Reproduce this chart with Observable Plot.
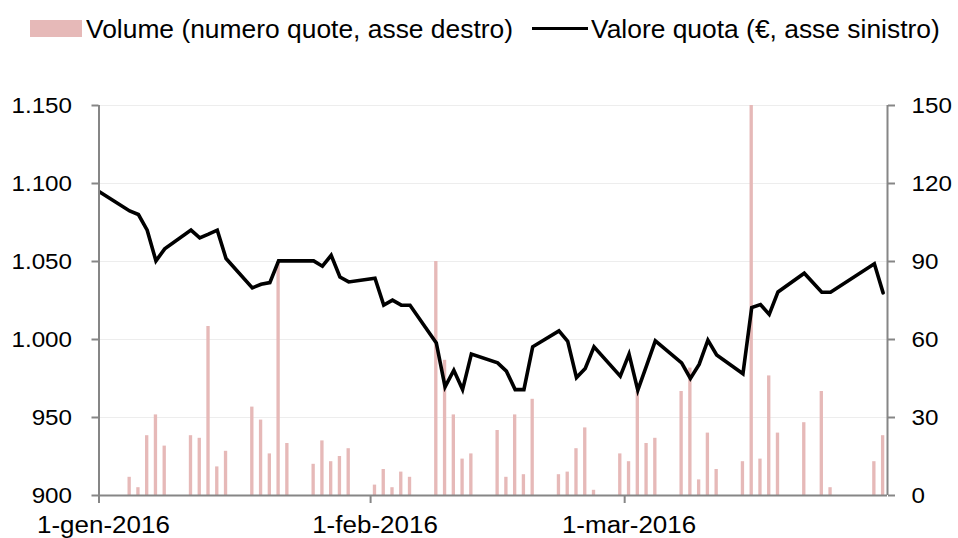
<!DOCTYPE html>
<html>
<head>
<meta charset="utf-8">
<script src="https://cdn.jsdelivr.net/npm/d3@7"></script>
<script src="https://cdn.jsdelivr.net/npm/@observablehq/plot@0.6"></script>
<style>
  html, body { margin: 0; padding: 0; background: #fff; }
  body { width: 958px; height: 538px; overflow: hidden; font-family: "Liberation Sans", Arial, sans-serif; }
  #legend { position: relative; height: 55px; font-size: 25px; color: #000; }
  #legend .sw { position: absolute; }
  #legend .tx { position: absolute; line-height: 25px; white-space: nowrap; transform: scaleX(1.056); transform-origin: 0 50%; }
  #chart svg { display: block; }
</style>
</head>
<body>
<div id="legend">
  <span class="sw" style="left:30px;top:20px;width:52px;height:17px;background:#e6b9b8"></span>
  <span class="tx" style="left:86px;top:17px">Volume (numero quote, asse destro)</span>
  <span class="sw" style="left:532px;top:27px;width:56px;height:3px;background:#000"></span>
  <span class="tx" style="left:591px;top:17px">Valore quota (€, asse sinistro)</span>
</div>
<div id="chart"></div>
<script>
// ---- data ----
const tradeDates = [
  "2016-01-04","2016-01-05","2016-01-06","2016-01-07","2016-01-08",
  "2016-01-11","2016-01-12","2016-01-13","2016-01-14","2016-01-15",
  "2016-01-18","2016-01-19","2016-01-20","2016-01-21","2016-01-22",
  "2016-01-25","2016-01-26","2016-01-27","2016-01-28","2016-01-29",
  "2016-02-01","2016-02-02","2016-02-03","2016-02-04","2016-02-05",
  "2016-02-08","2016-02-09","2016-02-10","2016-02-11","2016-02-12",
  "2016-02-15","2016-02-16","2016-02-17","2016-02-18","2016-02-19",
  "2016-02-22","2016-02-23","2016-02-24","2016-02-25","2016-02-26",
  "2016-02-29","2016-03-01","2016-03-02","2016-03-03","2016-03-04",
  "2016-03-07","2016-03-08","2016-03-09","2016-03-10","2016-03-11",
  "2016-03-14","2016-03-15","2016-03-16","2016-03-17","2016-03-18",
  "2016-03-21","2016-03-23","2016-03-24","2016-03-29","2016-03-30"
];
const valoreQuota = [
  1082.4, 1080.1, 1070.1, 1050.4, 1058.1,
  1070.1, 1065.1, 1067.5, 1070.1, 1051.9,
  1033.1, 1035.4, 1036.5, 1050.4, 1050.4,
  1050.4, 1047.0, 1054.0, 1040.1, 1036.9,
  1039.3, 1022.0, 1025.2, 1022.0, 1022.0,
  997.8, 969.6, 980.3, 967.9, 990.6,
  985.0, 979.7, 967.9, 967.9, 995.3,
  1005.5, 998.9, 975.6, 981.4, 995.3,
  976.5, 990.6, 967.5, 983.3, 999.1,
  985.0, 975.0, 984.0, 999.6, 990.1,
  978.0, 1020.5, 1022.4, 1016.1, 1030.5,
  1042.5, 1030.3, 1030.3, 1048.5, 1029.9
];
const volumeQuote = [
  7, 3, 23, 31, 19,
  23, 22, 65, 11, 17,
  34, 29, 16, 90, 20,
  12, 21, 13, 15, 18,
  4, 10, 3, 9, 7,
  90, 52, 31, 14, 16,
  25, 7, 31, 8, 37,
  8, 9, 18, 26, 2,
  16, 13, 40, 20, 22,
  40, 49, 6, 24, 10,
  13, 150, 14, 46, 24,
  28, 40, 3, 13, 23
];
const priorDate = "2015-12-31";
const priorValue = 1096.7;
const leftTicks = [900, 950, 1000, 1050, 1100, 1150];
const rightTicks = [0, 30, 60, 90, 120, 150];
const monthTicks = ["2016-01-01", "2016-02-01", "2016-03-01"];
const monthLabels = ["1-gen-2016", "1-feb-2016", "1-mar-2016"];
const xDomain = ["2016-01-01", "2016-03-31"];

// ---- build ----
const DAY = 864e5;
const yMin = leftTicks[0], yMax = leftTicks[leftTicks.length - 1];
const volMax = rightTicks[rightTicks.length - 1];
const toLeft = v => yMin + v * (yMax - yMin) / volMax;
const fromLeft = y => Math.round((y - yMin) * volMax / (yMax - yMin));
const itFmt = d3.formatLocale({decimal: ",", thousands: ".", grouping: [3], currency: ["€", ""]}).format(",");

const rows = tradeDates.map((s, i) => ({date: new Date(s), value: valoreQuota[i], volume: volumeQuote[i]}));
const lineRows = [{date: new Date(priorDate), value: priorValue}, ...rows];
const mid = d => new Date(+d.date + DAY / 2);
const xd = xDomain.map(s => new Date(s));
const tickDates = monthTicks.map(s => new Date(s));
const AXIS = "#868686";

const plot = Plot.plot({
  width: 958,
  height: 483,
  marginLeft: 98.5,
  marginRight: 71,
  marginTop: 50,
  marginBottom: 43,
  style: {fontFamily: "'Liberation Sans', Arial, sans-serif", fontSize: "22px", color: "#000", background: "#fff"},
  x: {type: "utc", domain: xd, label: null},
  y: {domain: [yMin, yMax], label: null},
  marks: [
    Plot.ruleY(leftTicks.slice(1), {stroke: "#ededed", strokeWidth: 1}),
    Plot.rect(rows, {
      x1: d => new Date(+d.date + DAY * 0.31),
      x2: d => new Date(+d.date + DAY * 0.69),
      y1: yMin,
      y2: d => toLeft(d.volume),
      fill: "#e6b9b8",
      inset: 0
    }),
    Plot.line(lineRows, {x: mid, y: "value", stroke: "#000", strokeWidth: 3.6, strokeLinejoin: "miter", strokeMiterlimit: 4, clip: true}),
    Plot.ruleX([xd[0]], {y1: yMin, y2: yMax, stroke: AXIS, strokeWidth: 2}),
    Plot.ruleX([xd[1]], {y1: yMin, y2: yMax, stroke: AXIS, strokeWidth: 2}),
    Plot.ruleY([yMin], {stroke: AXIS, strokeWidth: 2}),
    Plot.axisY({anchor: "left", ticks: leftTicks, tickFormat: itFmt, tickSize: 7, tickPadding: 20, stroke: AXIS, strokeWidth: 2, label: null}),
    Plot.axisY({anchor: "right", ticks: rightTicks.map(toLeft), tickFormat: d => String(fromLeft(d)), tickSize: 7, tickPadding: 17, stroke: AXIS, strokeWidth: 2, label: null}),
    Plot.axisX({ticks: tickDates, tickFormat: d => monthLabels[tickDates.findIndex(t => +t === +d)], tickSize: 8, tickPadding: 13, fontSize: 23, stroke: AXIS, strokeWidth: 2, label: null})
  ]
});

document.getElementById("chart").appendChild(plot);

// horizontal stretch of tick labels to match the reference lettering
d3.select(plot).selectAll('g[aria-label="y-axis tick label"] text').each(function () {
  const t = this.getAttribute("transform") || "";
  this.setAttribute("transform", t + " scale(1.1,1)");
});
d3.select(plot).selectAll('g[aria-label="x-axis tick label"] text').each(function () {
  const t = this.getAttribute("transform") || "";
  this.setAttribute("transform", t + " translate(4.4,0) scale(1.13,1)");
});
</script>
</body>
</html>
